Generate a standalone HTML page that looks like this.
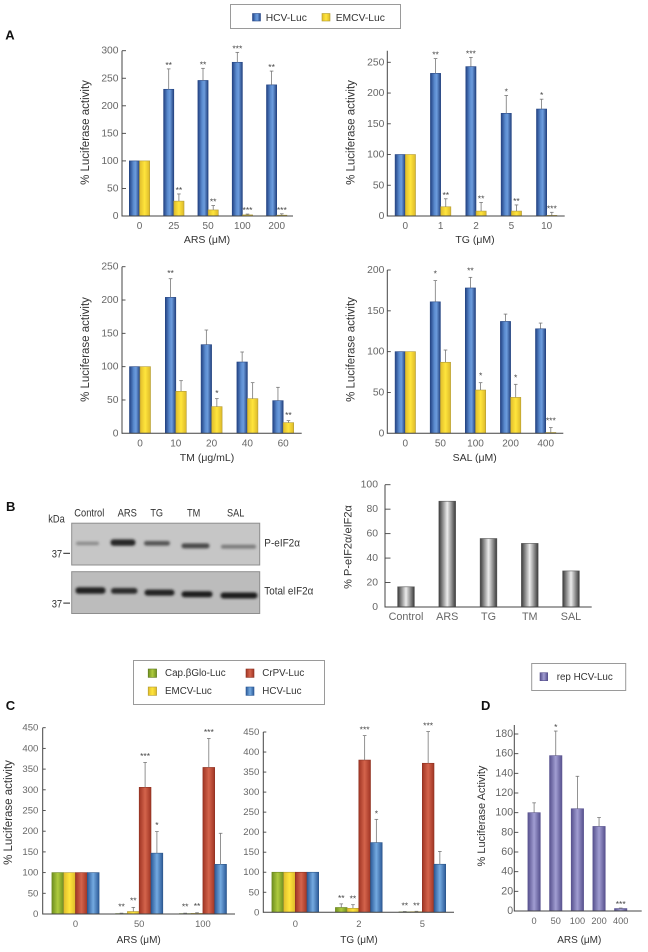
<!DOCTYPE html>
<html lang="en">
<head>
<meta charset="utf-8">
<title>Luciferase activity figure</title>
<style>
html,body{margin:0;padding:0;background:#fff;}
svg{display:block;font-family:"Liberation Sans",Arial,sans-serif;filter:blur(.25px);}
text{white-space:pre;}
</style>
</head>
<body>
<svg id="fig" xmlns="http://www.w3.org/2000/svg" width="648" height="952" viewBox="0 0 648 952">
<defs>
<linearGradient id="gBlue" x1="0" x2="1" y1="0" y2="0"><stop offset="0" stop-color="#234283"/><stop offset=".4" stop-color="#5a8bcf"/><stop offset=".62" stop-color="#6c9cdd"/><stop offset="1" stop-color="#23427f"/></linearGradient>
<linearGradient id="gYellow" x1="0" x2="1" y1="0" y2="0"><stop offset="0" stop-color="#e0bd2c"/><stop offset=".5" stop-color="#ffe53c"/><stop offset="1" stop-color="#dcb92a"/></linearGradient>
<linearGradient id="gGreen" x1="0" x2="1" y1="0" y2="0"><stop offset="0" stop-color="#6f8f20"/><stop offset=".5" stop-color="#afcb3e"/><stop offset="1" stop-color="#6f8f20"/></linearGradient>
<linearGradient id="gRed" x1="0" x2="1" y1="0" y2="0"><stop offset="0" stop-color="#a03524"/><stop offset=".5" stop-color="#d4644c"/><stop offset="1" stop-color="#a03524"/></linearGradient>
<linearGradient id="gSky" x1="0" x2="1" y1="0" y2="0"><stop offset="0" stop-color="#2c5a98"/><stop offset=".5" stop-color="#74aae0"/><stop offset="1" stop-color="#2c5a98"/></linearGradient>
<linearGradient id="gPurple" x1="0" x2="1" y1="0" y2="0"><stop offset="0" stop-color="#57518e"/><stop offset=".5" stop-color="#a19dd2"/><stop offset="1" stop-color="#57518e"/></linearGradient>
<linearGradient id="gGrey" x1="0" x2="1" y1="0" y2="0"><stop offset="0" stop-color="#3a3a3a"/><stop offset=".5" stop-color="#ececec"/><stop offset="1" stop-color="#3a3a3a"/></linearGradient>
<filter id="bandBlur" x="-20%" y="-150%" width="140%" height="400%"><feGaussianBlur stdDeviation="1.4"/></filter>
</defs>

<g>
  <rect x="230.5" y="4.5" width="170" height="24" fill="#fff" stroke="#9a9a9a"/>
  <rect x="252.5" y="13.5" width="8" height="7.5" fill="url(#gBlue)" stroke="#2b4c8c" stroke-width=".6"/>
  <text x="265.7" y="21" font-size="10.3" fill="#333">HCV-Luc</text>
  <rect x="322" y="13.5" width="8" height="7.5" fill="url(#gYellow)" stroke="#b09a30" stroke-width=".6"/>
  <text x="335.7" y="21" font-size="10.3" fill="#333">EMCV-Luc</text>
</g>

<text x="5.3" y="39.3" font-size="13" font-weight="bold" fill="#111">A</text>
<text x="6" y="511" font-size="13" font-weight="bold" fill="#111">B</text>
<text x="5.7" y="710" font-size="13" font-weight="bold" fill="#111">C</text>
<text x="481" y="710" font-size="13" font-weight="bold" fill="#111">D</text>

<g fill="#333" font-size="10.8">
  <text x="89.3" y="516.7" text-anchor="middle" textLength="30" lengthAdjust="spacingAndGlyphs">Control</text>
  <text x="127.3" y="516.7" text-anchor="middle" textLength="19.3" lengthAdjust="spacingAndGlyphs">ARS</text>
  <text x="156.7" y="516.7" text-anchor="middle" textLength="12.7" lengthAdjust="spacingAndGlyphs">TG</text>
  <text x="193.7" y="516.7" text-anchor="middle" textLength="13.3" lengthAdjust="spacingAndGlyphs">TM</text>
  <text x="235.7" y="516.7" text-anchor="middle" textLength="17.3" lengthAdjust="spacingAndGlyphs">SAL</text>
  <text x="48.3" y="522.7" textLength="16.5" lengthAdjust="spacingAndGlyphs">kDa</text>
  <text x="51.7" y="557.3" textLength="10.5" lengthAdjust="spacingAndGlyphs">37</text>
  <rect x="63.3" y="552.8" width="6.7" height="1" fill="#222"/>
  <text x="51.7" y="607.3" textLength="10.5" lengthAdjust="spacingAndGlyphs">37</text>
  <rect x="63.3" y="602.6" width="6.7" height="1" fill="#222"/>
  <text x="264.3" y="546.7" textLength="35.7" lengthAdjust="spacingAndGlyphs">P-eIF2α</text>
  <text x="264.3" y="594.3" textLength="49" lengthAdjust="spacingAndGlyphs">Total eIF2α</text>
  <rect x="71.7" y="523.2" width="188" height="41.8" fill="#c6c6c6" stroke="#8e8e8e"/>
  <rect x="71.7" y="571.7" width="188" height="41.8" fill="#bcbcbc" stroke="#8e8e8e"/>
  <g filter="url(#bandBlur)">
    <rect x="76" y="541.7" width="23" height="3.4" rx="1.7" fill="#8a8a8a"/>
    <rect x="110.5" y="539.4" width="25" height="6.4" rx="3" fill="#252525"/>
    <rect x="144" y="541" width="26" height="4.6" rx="2.3" fill="#555"/>
    <rect x="181.5" y="543.4" width="28" height="5" rx="2.5" fill="#484848"/>
    <rect x="221" y="544.8" width="35" height="3.8" rx="1.9" fill="#7a7a7a"/>
  </g>
  <g filter="url(#bandBlur)">
    <rect x="75.5" y="587.2" width="30" height="6.6" rx="3" fill="#222"/>
    <rect x="111" y="588" width="26.5" height="5.8" rx="2.9" fill="#2a2a2a"/>
    <rect x="144.5" y="589.6" width="30" height="6" rx="3" fill="#222"/>
    <rect x="181.5" y="591.2" width="31" height="6" rx="3" fill="#1e1e1e"/>
    <rect x="220.5" y="592.5" width="37" height="6" rx="3" fill="#1e1e1e"/>
  </g>
</g>

<g>
  <rect x="133.5" y="660.5" width="191" height="44" fill="#fff" stroke="#9a9a9a"/>
  <rect x="148.2" y="669" width="8.4" height="8.4" fill="url(#gGreen)" stroke="#5f7a20" stroke-width=".6"/>
  <text x="165" y="676.2" font-size="9.8" fill="#333">Cap.βGlo-Luc</text>
  <rect x="148.2" y="687" width="8.4" height="8.4" fill="url(#gYellow)" stroke="#b09a30" stroke-width=".6"/>
  <text x="165" y="694.2" font-size="9.8" fill="#333">EMCV-Luc</text>
  <rect x="246" y="669" width="8" height="8.4" fill="url(#gRed)" stroke="#8a3020" stroke-width=".6"/>
  <text x="262.3" y="676.2" font-size="9.8" fill="#333">CrPV-Luc</text>
  <rect x="246" y="687" width="8" height="8.4" fill="url(#gSky)" stroke="#2c5a98" stroke-width=".6"/>
  <text x="262.3" y="694.2" font-size="9.8" fill="#333">HCV-Luc</text>
</g>

<g>
  <rect x="531.7" y="663.5" width="94" height="27" fill="#fff" stroke="#9a9a9a"/>
  <rect x="540" y="672.7" width="7.7" height="8" fill="url(#gPurple)" stroke="#57518e" stroke-width=".6"/>
  <text x="556.7" y="680" font-size="9.8" fill="#333">rep HCV-Luc</text>
</g>
</svg>

<script>
/* Panel A, ARS */
const arsDoses = ['0', '25', '50', '100', '200'];
const arsTicks = [0, 50, 100, 150, 200, 250, 300];
const arsHcv = [100, 230, 246, 279, 238];
const arsHcvSd = [0, 37, 22, 18, 25];
const arsHcvStars = ['', '**', '**', '***', '**'];
const arsEmcv = [100, 27, 11, 2, 1.5];
const arsEmcvSd = [0, 13, 8, 1.5, 2.5];
const arsEmcvStars = ['', '**', '**', '***', '***'];

/* Panel A, TG */
const tgDoses = ['0', '1', '2', '5', '10'];
const tgTicks = [0, 50, 100, 150, 200, 250];
const tgHcv = [100, 232, 243, 167, 174];
const tgHcvSd = [0, 24, 15, 29, 16];
const tgHcvStars = ['', '**', '***', '*', '*'];
const tgEmcv = [100, 15, 8, 8, 1];
const tgEmcvSd = [0, 13, 14, 10, 5];
const tgEmcvStars = ['', '**', '**', '**', '***'];

/* Panel A, TM */
const tmDoses = ['0', '10', '20', '40', '60'];
const tmTicks = [0, 50, 100, 150, 200, 250];
const tmHcv = [100, 204, 133, 107, 49];
const tmHcvSd = [0, 28, 22, 15, 20];
const tmHcvStars = ['', '**', '', '', ''];
const tmEmcv = [100, 63, 40, 52, 16];
const tmEmcvSd = [0, 16, 12, 24, 3];
const tmEmcvStars = ['', '', '*', '', '**'];

/* Panel A, SAL */
const salDoses = ['0', '50', '100', '200', '400'];
const salTicks = [0, 50, 100, 150, 200];
const salHcv = [100, 161, 178, 137, 128];
const salHcvSd = [0, 26, 13, 9, 7];
const salHcvStars = ['', '*', '**', '', ''];
const salEmcv = [100, 87, 53, 44, 1];
const salEmcvSd = [0, 15, 9, 16, 6];
const salEmcvStars = ['', '', '*', '*', '***'];

/* Panel B */
const blotLanes = ['Control', 'ARS', 'TG', 'TM', 'SAL'];
const blotTicks = [0, 20, 40, 60, 80, 100];
const blotRatio = [16.5, 86.5, 56, 52, 29.5];

/* Panel C, ARS */
const cArsDoses = ['0', '50', '100'];
const cTicks = [0, 50, 100, 150, 200, 250, 300, 350, 400, 450];
const cArsCap = [100, 1, 1];
const cArsCapSd = [0, 1, 1];
const cArsCapStars = ['', '**', '**'];
const cArsEmcv = [100, 6, 1.5];
const cArsEmcvSd = [0, 10, 1.5];
const cArsEmcvStars = ['', '**', '**'];
const cArsCrpv = [100, 306, 354];
const cArsCrpvSd = [0, 60, 70];
const cArsCrpvStars = ['', '***', '***'];
const cArsHcv = [100, 147, 120];
const cArsHcvSd = [0, 52, 75];
const cArsHcvStars = ['', '*', ''];

/* Panel C, TG */
const cTgDoses = ['0', '2', '5'];
const cTgCap = [100, 12, 1];
const cTgCapSd = [0, 9, 1];
const cTgCapStars = ['', '**', '**'];
const cTgEmcv = [100, 10, 1.5];
const cTgEmcvSd = [0, 9, 1];
const cTgEmcvStars = ['', '**', '**'];
const cTgCrpv = [100, 380, 372];
const cTgCrpvSd = [0, 61, 79];
const cTgCrpvStars = ['', '***', '***'];
const cTgHcv = [100, 174, 120];
const cTgHcvSd = [0, 58, 32];
const cTgHcvStars = ['', '*', ''];

/* Panel D */
const dDoses = ['0', '50', '100', '200', '400'];
const dTicks = [0, 20, 40, 60, 80, 100, 120, 140, 160, 180];
const dRep = [100, 158, 104, 86, 2.5];
const dRepSd = [10, 25, 33, 9, 0.5];
const dRepStars = ['', '*', '', '', '***'];

const SVG_NS = 'http://www.w3.org/2000/svg';
const root = document.getElementById('fig');

function mk(parent, tag, attrs, txt) {
  const el = document.createElementNS(SVG_NS, tag);
  for (const k in attrs) el.setAttribute(k, attrs[k]);
  if (txt !== undefined) el.textContent = txt;
  parent.appendChild(el);
  return el;
}

function drawChart(c) {
  const g = mk(root, 'g', {});
  
  

  const refValue = c.ticks[c.ticks.length - 1];
  const yScale = function (v) { return c.y0 - v * (c.y0 - c.yRef) / refValue; };
  const xCenter = function (i) { return c.c0 + c.step * i; };
  const n = c.series.length;

  c.series.forEach(function (s, j) {
    s.values.forEach(function (v, i) {
      const left = xCenter(i) + (j - n / 2) * c.barW;
      const bar = mk(g, 'rect', { x: left, y: yScale(v), width: c.barW, height: c.y0 - yScale(v), fill: s.fill, stroke: s.stroke, 'stroke-width': 0.6 });
      
      

      const mid = left + c.barW / 2;
      const sd = s.sd ? s.sd[i] : 0;
      if (sd > 0) {
        const top = yScale(v + sd);
        const stem = mk(g, 'line', { x1: mid, x2: mid, y1: yScale(v), y2: top, stroke: '#777', 'stroke-width': 0.8 });
        
        
        const cap = mk(g, 'line', { x1: mid - 1.8, x2: mid + 1.8, y1: top, y2: top, stroke: '#777', 'stroke-width': 0.8 });
        
        
      }
      if (s.stars && s.stars[i]) {
        const sy = yScale(v + sd) - c.starGap + 5;
        const star = mk(g, 'text', { x: mid, y: sy, 'text-anchor': 'middle', 'font-size': 8.5, fill: '#444' }, s.stars[i]);
        
        
      }
    });
  });

  const yAxis = mk(g, 'line', { x1: c.axisX, x2: c.axisX, y1: c.axisTop !== undefined ? c.axisTop : c.yRef, y2: c.y0 + 0.5, stroke: '#444', 'stroke-width': 1 });
  
  
  const xAxis = mk(g, 'line', { x1: c.axisX, x2: c.axisEnd, y1: c.y0, y2: c.y0, stroke: '#444', 'stroke-width': 1 });
  
  

  c.ticks.forEach(function (t) {
    const y = yScale(t);
    if (t !== 0) {
      const tick = mk(g, 'line', { x1: c.axisX, x2: c.axisX + c.tickLen, y1: y, y2: y, stroke: '#444', 'stroke-width': 0.9 });
      
      
    }
    const lab = mk(g, 'text', { x: c.axisX - c.labelGap, y: y + 3, 'text-anchor': 'end', 'font-size': c.yFont, fill: '#666' }, String(t));
    
    
  });

  c.labels.forEach(function (l, i) {
    const lab = mk(g, 'text', { x: xCenter(i) + (c.labelShift || 0) * i, y: c.xLabelY, 'text-anchor': 'middle', 'font-size': c.xFont, fill: '#666' }, l);
    
    
  });

  if (c.xTitle) {
    const xt = mk(g, 'text', { x: c.xTitleX, y: c.xTitleY, 'text-anchor': 'middle', 'font-size': c.xTitleFont || 10.5, fill: '#333' }, c.xTitle);
    
    
  }
  if (c.yTitle) {
    const yt = mk(g, 'text', { transform: 'translate(' + c.yTitleX + ',' + c.yTitleY + ') rotate(-90)', 'text-anchor': 'middle', 'font-size': c.yTitleFont || 11.5, fill: '#333' }, c.yTitle);
    
    
  }
}

const BLUE = { fill: 'url(#gBlue)', stroke: '#264684', key: 'hcv' };
const YELLOW = { fill: 'url(#gYellow)', stroke: '#b39c38', key: 'emcv' };
const GREEN = { fill: 'url(#gGreen)', stroke: '#6a8620', key: 'cap-glo' };
const RED = { fill: 'url(#gRed)', stroke: '#8e3222', key: 'crpv' };
const SKY = { fill: 'url(#gSky)', stroke: '#2c5688', key: 'hcv' };

function ser(style, values, sd, stars) {
  return { fill: style.fill, stroke: style.stroke, key: style.key, values: values, sd: sd, stars: stars };
}

drawChart({ name: 'ars-chart', labels: arsDoses, ticks: arsTicks, axisX: 122, axisEnd: 293, y0: 216, yRef: 50.7, c0: 139.5, step: 34.3, barW: 10.2, tickLen: 4, labelGap: 3.5, yFont: 10.3, xFont: 10, xLabelY: 229, starGap: 6, xTitle: 'ARS (μM)', xTitleX: 207, xTitleY: 243, yTitle: '% Luciferase activity', yTitleX: 89, yTitleY: 132.5,
  series: [ser(BLUE, arsHcv, arsHcvSd, arsHcvStars), ser(YELLOW, arsEmcv, arsEmcvSd, arsEmcvStars)] });

drawChart({ name: 'tg-chart', labels: tgDoses, ticks: tgTicks, axisX: 387.3, axisEnd: 564.7, y0: 216, yRef: 62.3, axisTop: 50.7, c0: 405.3, step: 35.35, barW: 10.2, tickLen: 3.5, labelGap: 3, yFont: 10.3, xFont: 10, xLabelY: 229, starGap: 6, xTitle: 'TG (μM)', xTitleX: 475, xTitleY: 243, yTitle: '% Luciferase activity', yTitleX: 354.7, yTitleY: 132.5,
  series: [ser(BLUE, tgHcv, tgHcvSd, tgHcvStars), ser(YELLOW, tgEmcv, tgEmcvSd, tgEmcvStars)] });

drawChart({ name: 'tm-chart', labels: tmDoses, ticks: tmTicks, axisX: 122, axisEnd: 301.7, y0: 433.3, yRef: 266.7, c0: 140, step: 35.8, barW: 10.5, tickLen: 3.5, labelGap: 3.5, yFont: 10.3, xFont: 10, xLabelY: 446.7, starGap: 7.5, xTitle: 'TM (μg/mL)', xTitleX: 207, xTitleY: 461, yTitle: '% Luciferase activity', yTitleX: 89, yTitleY: 349.5,
  series: [ser(BLUE, tmHcv, tmHcvSd, tmHcvStars), ser(YELLOW, tmEmcv, tmEmcvSd, tmEmcvStars)] });

drawChart({ name: 'sal-chart', labels: salDoses, ticks: salTicks, axisX: 387.3, axisEnd: 563.3, y0: 433.3, yRef: 270, c0: 405.3, step: 35.1, barW: 10.2, tickLen: 3.5, labelGap: 3, yFont: 10.3, xFont: 10, xLabelY: 446.7, starGap: 9, xTitle: 'SAL (μM)', xTitleX: 474.7, xTitleY: 461, yTitle: '% Luciferase activity', yTitleX: 354.7, yTitleY: 349.5,
  series: [ser(BLUE, salHcv, salHcvSd, salHcvStars), ser(YELLOW, salEmcv, salEmcvSd, salEmcvStars)] });

drawChart({ name: 'peif2a-ratio-chart', labels: blotLanes, ticks: blotTicks, axisX: 385, axisEnd: 591.7, y0: 607, yRef: 484.7, c0: 406, step: 41.25, barW: 16.7, tickLen: 5.5, labelGap: 7, yFont: 10.4, xFont: 10.8, xLabelY: 620, starGap: 6, yTitle: '% P-eIF2α/eIF2α', yTitleX: 351.3, yTitleY: 547, yTitleFont: 11,
  series: [{ fill: 'url(#gGrey)', stroke: '#555', key: 'ratio', values: blotRatio }] });

drawChart({ name: 'c-ars-chart', labels: cArsDoses, ticks: cTicks, axisX: 42.7, axisEnd: 235, y0: 914, yRef: 727.7, c0: 75.5, step: 63.7, barW: 11.8, tickLen: 3, labelGap: 4.3, yFont: 9.6, xFont: 9.4, xLabelY: 927, starGap: 8.7, xTitle: 'ARS (μM)', xTitleX: 138.7, xTitleY: 943, xTitleFont: 10, yTitle: '% Luciferase activity', yTitleX: 12, yTitleY: 812.5,
  series: [ser(GREEN, cArsCap, cArsCapSd, cArsCapStars), ser(YELLOW, cArsEmcv, cArsEmcvSd, cArsEmcvStars), ser(RED, cArsCrpv, cArsCrpvSd, cArsCrpvStars), ser(SKY, cArsHcv, cArsHcvSd, cArsHcvStars)] });

drawChart({ name: 'c-tg-chart', labels: cTgDoses, ticks: cTicks, axisX: 263.3, axisEnd: 454, y0: 912.3, yRef: 732, c0: 295.3, step: 63.5, barW: 11.7, tickLen: 3, labelGap: 4, yFont: 9.6, xFont: 9.4, xLabelY: 927, starGap: 8, xTitle: 'TG (μM)', xTitleX: 359, xTitleY: 943, xTitleFont: 10,
  series: [ser(GREEN, cTgCap, cTgCapSd, cTgCapStars), ser(YELLOW, cTgEmcv, cTgEmcvSd, cTgEmcvStars), ser(RED, cTgCrpv, cTgCrpvSd, cTgCrpvStars), ser(SKY, cTgHcv, cTgHcvSd, cTgHcvStars)] });

drawChart({ name: 'd-rep-chart', labels: dDoses, ticks: dTicks, axisX: 514.3, axisEnd: 641.7, y0: 911, yRef: 734, axisTop: 725, c0: 534.1, step: 21.65, barW: 12.4, tickLen: 4, labelGap: 1.2, yFont: 10.6, xFont: 9.2, xLabelY: 924, starGap: 6, xTitle: 'ARS (μM)', xTitleX: 579.3, xTitleY: 943, xTitleFont: 10, yTitle: '% Luciferase Activity', yTitleX: 485, yTitleY: 816, yTitleFont: 11,
  series: [{ fill: 'url(#gPurple)', stroke: '#5a5490', key: 'rep-hcv', values: dRep, sd: dRepSd, stars: dRepStars }] });
</script>
</body>
</html>
